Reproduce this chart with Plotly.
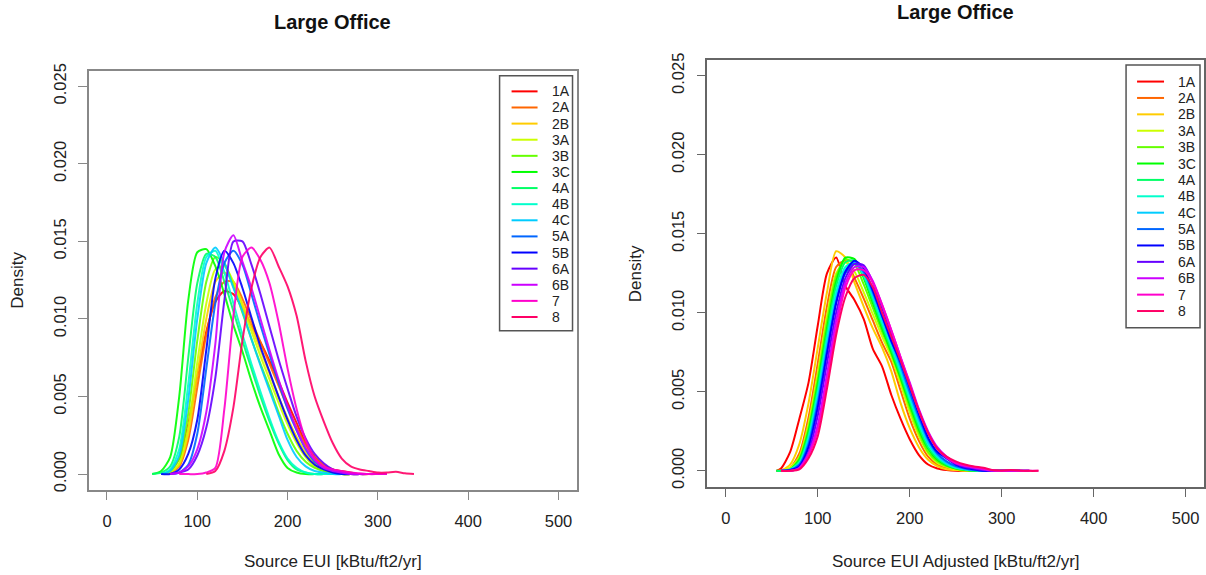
import plotly.graph_objects as go

N = None

# ---------------- data ----------------
zones = ["1A", "2A", "2B", "3A", "3B", "3C", "4A", "4B", "4C", "5A", "5B", "6A", "6B", "7", "8"]
colors = ["#FF0000", "#FF6600", "#FFCC00", "#CCFF00", "#66FF00", "#00FF00", "#00FF66", "#00FFCC",
          "#00CCFF", "#0066FF", "#0000FF", "#6600FF", "#CC00FF", "#FF00CC", "#FF0066"]

x_ticks = [0, 100, 200, 300, 400, 500]
y_ticks = [0.0, 0.005, 0.010, 0.015, 0.020, 0.025]
y_ticktext = ["0.000", "0.005", "0.010", "0.015", "0.020", "0.025"]

# Left panel: Source EUI grid (kBtu/ft2/yr); densities in units of 1e-3
left_eui = [50, 60, 70, 80, 90, 100, 110, 120, 130, 140, 150, 160, 170, 180, 190,
            200, 210, 220, 230, 240, 250, 260, 270, 280, 290, 300, 310, 320, 330, 340]
left_1A = [N, 0.0, 0.2, 1.0, 3.2, 6.3, 9.2, 11.1, 11.8, 11.6, 10.7, 9.6, 8.5, 7.3, 6.0, 4.6, 3.3, 2.0, 1.1, 0.5, 0.3, 0.2, 0.1, 0.0, 0.0, 0.0, N, N, N, N]
left_2A = [N, 0.0, 0.1, 0.5, 2.2, 5.6, 9.0, 11.4, 12.4, 12.4, 11.3, 9.9, 8.5, 7.1, 5.7, 4.3, 3.0, 1.9, 1.1, 0.6, 0.3, 0.1, 0.0, 0.0, 0.0, 0.0, N, N, N, N]
left_2B = [N, 0.0, 0.1, 0.6, 2.6, 6.4, 10.0, 12.4, 13.0, 12.4, 11.0, 9.5, 8.0, 6.5, 5.0, 3.6, 2.4, 1.4, 0.7, 0.3, 0.1, 0.0, 0.0, 0.0, 0.0, N, N, N, N, N]
left_3A = [N, 0.0, 0.1, 0.7, 3.0, 7.2, 11.0, 13.2, 13.4, 12.4, 10.8, 9.2, 7.6, 6.1, 4.6, 3.2, 2.0, 1.1, 0.5, 0.2, 0.1, 0.0, 0.0, 0.0, 0.0, N, N, N, N, N]
left_3B = [N, 0.0, 0.2, 1.0, 3.9, 8.6, 12.4, 14.0, 13.6, 12.1, 10.4, 8.7, 7.1, 5.6, 4.0, 2.6, 1.5, 0.8, 0.4, 0.2, 0.1, 0.0, 0.0, 0.0, N, N, N, N, N, N]
left_3C = [0.0, 0.2, 1.1, 5.0, 11.2, 14.3, 14.5, 13.4, 11.6, 9.6, 7.9, 6.0, 4.3, 2.8, 1.3, 0.4, 0.1, 0.0, 0.0, 0.0, 0.0, N, N, N, N, N, N, N, N, N]
left_4A = [0.0, 0.1, 0.5, 2.4, 7.5, 12.3, 14.2, 14.0, 12.4, 10.5, 8.6, 6.8, 5.0, 3.4, 2.0, 0.9, 0.3, 0.1, 0.0, 0.0, 0.0, 0.0, 0.0, N, N, N, N, N, N, N]
left_4B = [N, 0.0, 0.3, 1.6, 5.8, 11.0, 14.0, 14.4, 13.0, 11.0, 9.0, 7.1, 5.3, 3.6, 2.1, 1.0, 0.4, 0.1, 0.0, 0.0, 0.0, 0.0, 0.0, 0.0, N, N, N, N, N, N]
left_4C = [N, 0.0, 0.2, 1.2, 4.8, 10.0, 13.6, 14.6, 13.6, 12.0, 10.5, 8.7, 7.0, 5.4, 3.8, 2.2, 1.1, 0.5, 0.2, 0.1, 0.0, 0.0, 0.0, 0.0, 0.0, N, N, N, N, N]
left_5A = [N, N, 0.0, 0.1, 0.6, 2.6, 6.8, 11.0, 13.6, 14.4, 13.5, 11.6, 9.6, 7.7, 5.9, 4.2, 2.8, 1.6, 0.8, 0.4, 0.2, 0.1, 0.0, 0.0, 0.0, 0.0, N, N, N, N]
left_5B = [N, 0.0, 0.0, 0.3, 1.3, 3.5, 8.0, 12.6, 14.4, 13.6, 12.0, 10.1, 8.2, 6.6, 5.0, 3.5, 2.2, 1.2, 0.6, 0.3, 0.1, 0.0, 0.0, 0.0, 0.0, 0.0, N, N, N, N]
left_6A = [N, N, 0.0, 0.1, 0.3, 1.2, 3.0, 6.2, 11.2, 15.0, 15.0, 13.5, 11.6, 9.5, 7.4, 5.5, 3.7, 2.3, 1.3, 0.7, 0.3, 0.1, 0.05, 0.0, 0.0, 0.0, 0.0, N, N, N]
left_6B = [N, N, 0.0, 0.1, 0.5, 1.6, 4.0, 8.4, 14.3, 15.4, 13.7, 12.0, 10.0, 8.0, 6.1, 4.4, 2.9, 1.7, 0.9, 0.4, 0.2, 0.1, 0.0, 0.0, 0.0, 0.0, N, N, N, N]
left_7 = [N, N, N, 0.0, 0.0, 0.0, 0.1, 0.4, 4.2, 10.2, 14.0, 14.6, 13.8, 12.3, 9.8, 6.8, 4.2, 2.2, 1.0, 0.5, 0.3, 0.2, 0.1, 0.05, 0.0, 0.0, 0.0, N, N, N]
left_8 = [N, N, N, N, N, N, 0.0, 0.2, 1.5, 4.3, 8.6, 12.0, 14.0, 14.6, 13.4, 12.1, 10.2, 7.3, 5.0, 3.4, 2.0, 1.0, 0.5, 0.3, 0.2, 0.1, 0.1, 0.15, 0.05, 0.0]

# Right panel: Source EUI Adjusted grid; densities in units of 1e-3
right_eui = [55, 60, 70, 80, 90, 100, 110, 120, 130, 140, 150, 160, 170, 180, 190,
             200, 210, 220, 230, 240, 250, 260, 270, 280, 290, 300, 310, 320, 330, 340]
right_1A = [0.0, 0.15, 1.2, 3.3, 5.6, 9.2, 12.5, 13.5, 11.7, 10.8, 9.6, 7.7, 6.6, 4.8, 3.3, 2.0, 1.0, 0.4, 0.15, 0.05, 0.0, 0.0, 0.0, 0.0, N, N, N, N, N, N]
right_2A = [0.0, 0.05, 0.2, 1.1, 3.4, 6.8, 10.4, 12.9, 13.3, 12.2, 10.9, 9.5, 8.1, 6.9, 5.1, 3.3, 1.9, 0.9, 0.4, 0.2, 0.1, 0.0, 0.0, 0.0, 0.0, 0.0, N, N, N, N]
right_2B = [N, 0.0, 0.4, 1.7, 4.3, 7.8, 11.3, 13.9, 13.5, 11.9, 10.4, 9.0, 7.8, 6.3, 4.3, 2.7, 1.5, 0.7, 0.3, 0.1, 0.05, 0.0, 0.0, 0.0, 0.0, N, N, N, N, N]
right_3A = [N, 0.0, 0.2, 0.9, 3.0, 6.2, 9.8, 12.5, 13.2, 12.6, 11.3, 9.9, 8.5, 7.2, 5.5, 3.7, 2.2, 1.1, 0.5, 0.25, 0.1, 0.05, 0.0, 0.0, 0.0, 0.0, N, N, N, N]
right_3B = [N, 0.0, 0.1, 0.8, 2.7, 5.8, 9.4, 12.3, 13.4, 13.1, 11.8, 10.3, 8.8, 7.4, 5.8, 4.0, 2.4, 1.2, 0.6, 0.3, 0.15, 0.05, 0.0, 0.0, 0.0, 0.0, 0.0, N, N, N]
right_3C = [0.0, 0.0, 0.1, 0.7, 2.5, 5.5, 9.0, 12.0, 13.5, 13.4, 12.2, 10.6, 9.0, 7.5, 5.9, 4.2, 2.6, 1.4, 0.7, 0.35, 0.15, 0.05, 0.0, 0.0, 0.0, 0.0, 0.0, N, N, N]
right_4A = [0.0, 0.0, 0.1, 0.6, 2.3, 5.2, 8.7, 11.7, 13.2, 13.3, 12.3, 10.8, 9.2, 7.7, 6.1, 4.4, 2.8, 1.5, 0.8, 0.4, 0.2, 0.1, 0.0, 0.0, 0.0, 0.0, 0.0, N, N, N]
right_4B = [N, 0.0, 0.1, 0.5, 2.1, 4.9, 8.3, 11.3, 12.9, 13.2, 12.4, 11.0, 9.4, 7.9, 6.3, 4.6, 3.0, 1.7, 0.9, 0.45, 0.2, 0.1, 0.05, 0.0, 0.0, 0.0, 0.0, 0.0, N, N]
right_4C = [N, 0.0, 0.05, 0.4, 1.9, 4.6, 8.0, 11.0, 12.7, 13.2, 12.5, 11.1, 9.6, 8.1, 6.5, 4.8, 3.2, 1.8, 1.0, 0.5, 0.25, 0.1, 0.05, 0.0, 0.0, 0.0, 0.0, 0.0, N, N]
right_5A = [N, 0.0, 0.05, 0.4, 1.7, 4.3, 7.6, 10.7, 12.5, 13.1, 12.6, 11.3, 9.8, 8.3, 6.7, 5.0, 3.4, 2.0, 1.1, 0.6, 0.3, 0.15, 0.05, 0.0, 0.0, 0.0, 0.0, 0.0, N, N]
right_5B = [N, 0.0, 0.05, 0.3, 1.5, 4.0, 7.4, 10.6, 12.6, 13.3, 12.8, 11.4, 9.8, 8.2, 6.9, 5.3, 3.6, 2.1, 1.2, 0.8, 0.4, 0.2, 0.1, 0.0, 0.0, 0.0, 0.0, 0.0, 0.0, N]
right_6A = [N, 0.0, 0.0, 0.2, 1.2, 3.5, 6.8, 10.0, 12.2, 13.1, 13.0, 11.9, 10.3, 8.7, 7.0, 5.4, 3.8, 2.4, 1.4, 0.8, 0.45, 0.25, 0.15, 0.05, 0.0, 0.0, 0.0, 0.0, 0.0, N]
right_6B = [N, 0.0, 0.0, 0.2, 1.1, 2.9, 6.1, 9.5, 11.9, 12.9, 12.9, 12.0, 10.5, 8.9, 7.2, 5.6, 3.9, 2.5, 1.5, 0.9, 0.5, 0.3, 0.2, 0.1, 0.0, 0.0, 0.0, 0.0, 0.0, N]
right_7 = [N, 0.0, 0.0, 0.15, 1.0, 2.6, 5.7, 9.0, 11.6, 12.7, 12.7, 11.9, 10.5, 8.9, 7.2, 5.5, 3.8, 2.4, 1.4, 0.85, 0.5, 0.35, 0.25, 0.15, 0.05, 0.0, 0.02, 0.0, 0.0, 0.0]
right_8 = [N, 0.0, 0.0, 0.1, 0.8, 2.2, 5.2, 8.6, 11.0, 12.2, 12.4, 11.6, 10.0, 8.5, 7.0, 5.4, 3.8, 2.4, 1.4, 0.9, 0.6, 0.4, 0.28, 0.2, 0.05, 0.03, 0.05, 0.02, 0.0, 0.0]

left_series = [left_1A, left_2A, left_2B, left_3A, left_3B, left_3C, left_4A, left_4B,
               left_4C, left_5A, left_5B, left_6A, left_6B, left_7, left_8]
right_series = [right_1A, right_2A, right_2B, right_3A, right_3B, right_3C, right_4A, right_4B,
                right_4C, right_5A, right_5B, right_6A, right_6B, right_7, right_8]

DENSITY_UNIT = 1e-3

# ---------------- layout helpers ----------------
W, H = 1206, 575
FONT = "Liberation Sans, Arial, Helvetica, sans-serif"


def fx(p):
    return p / W


def fy(p):
    return 1 - p / H


def scale(vals):
    return [None if v is None else v * DENSITY_UNIT for v in vals]


fig = go.Figure()

for name, col, vals in zip(zones, colors, left_series):
    fig.add_trace(go.Scatter(
        x=left_eui, y=scale(vals), mode="lines", name=name,
        line=dict(color=col, width=2, shape="spline", smoothing=0.7),
        opacity=0.9, xaxis="x", yaxis="y", showlegend=False, hoverinfo="skip"))

for name, col, vals in zip(zones, colors, right_series):
    fig.add_trace(go.Scatter(
        x=right_eui, y=scale(vals), mode="lines", name=name,
        line=dict(color=col, width=2, shape="spline", smoothing=0.7),
        xaxis="x2", yaxis="y2", showlegend=False, hoverinfo="skip"))


def xaxis_cfg(x0, x1, anchor, lc):
    return dict(domain=[fx(x0), fx(x1)], range=[-20, 520], anchor=anchor,
                tickvals=x_ticks, ticks="outside", ticklen=9, tickwidth=1, tickcolor=lc,
                showline=True, mirror=True, linecolor=lc, linewidth=1.5,
                showgrid=False, zeroline=False, ticklabelstandoff=7,
                tickfont=dict(family=FONT, size=16.5, color="#222"))


def yaxis_cfg(y_top, y_bot, anchor, lc):
    return dict(domain=[fy(y_bot), fy(y_top)], range=[-0.001, 0.026], anchor=anchor,
                tickvals=y_ticks, ticktext=y_ticktext, tickangle=-90,
                ticks="outside", ticklen=9, tickwidth=1, tickcolor=lc,
                showline=True, mirror=True, linecolor=lc, linewidth=1.5,
                showgrid=False, zeroline=False, ticklabelstandoff=6,
                tickfont=dict(family=FONT, size=16.5, color="#222"))


annotations = []
shapes = []

panels = [
    dict(cx=333, ty=14, xt="Source EUI [kBtu/ft2/yr]", dx=18, dy=277, ax=(500, 573, 69, 329),
         item0=85, step=16.43, lx=(512, 538), tx=550),
    dict(cx=956.5, ty=4, xt="Source EUI Adjusted [kBtu/ft2/yr]", dx=636, dy=271,
         ax=(1127, 1201, 58, 326), item0=75, step=16.71, lx=(1138, 1165), tx=1177),
]

for p in panels:
    annotations.append(dict(x=fx(p["cx"]), y=fy(p["ty"]), xref="paper", yref="paper",
                            text="<b>Large Office</b>", showarrow=False,
                            xanchor="center", yanchor="middle",
                            font=dict(family=FONT, size=20, color="#111")))
    annotations.append(dict(x=fx(p["cx"]), y=fy(564), xref="paper", yref="paper",
                            text=p["xt"], showarrow=False, xanchor="center", yanchor="middle",
                            font=dict(family=FONT, size=17, color="#222")))
    annotations.append(dict(x=fx(p["dx"]), y=fy(p["dy"]), xref="paper", yref="paper",
                            text="Density", textangle=-90, showarrow=False,
                            xanchor="center", yanchor="middle",
                            font=dict(family=FONT, size=17, color="#222")))
    # legend box
    x0, x1, y0, y1 = p["ax"]
    shapes.append(dict(type="rect", xref="paper", yref="paper",
                       x0=fx(x0), x1=fx(x1), y0=fy(y1), y1=fy(y0),
                       line=dict(color="#555", width=1.5), fillcolor="white"))
    for i, (name, col) in enumerate(zip(zones, colors)):
        yy = p["item0"] + i * p["step"]
        shapes.append(dict(type="line", xref="paper", yref="paper",
                           x0=fx(p["lx"][0]), x1=fx(p["lx"][1]), y0=fy(yy), y1=fy(yy),
                           line=dict(color=col, width=2)))
        annotations.append(dict(x=fx(p["tx"]), y=fy(yy), xref="paper", yref="paper",
                                text=name, showarrow=False, xanchor="left", yanchor="middle",
                                font=dict(family=FONT, size=14, color="#222")))

fig.update_layout(
    width=W, height=H,
    margin=dict(l=0, r=0, t=0, b=0),
    paper_bgcolor="white", plot_bgcolor="white",
    xaxis=xaxis_cfg(89, 577, "y", "#888"),
    yaxis=yaxis_cfg(64, 491, "x", "#888"),
    xaxis2=xaxis_cfg(708, 1205, "y2", "#666"),
    yaxis2=yaxis_cfg(53, 488, "x2", "#666"),
    annotations=annotations,
    shapes=shapes,
    showlegend=False,
)

fig.write_html("out.html")
